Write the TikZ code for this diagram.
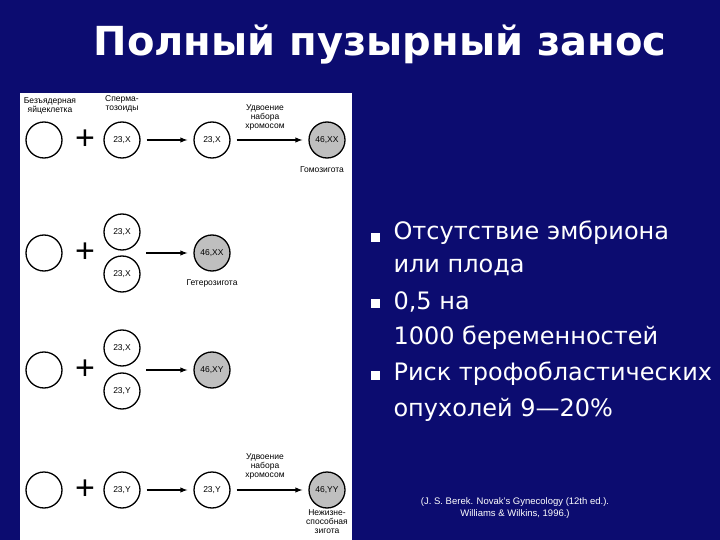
\documentclass[tikz,border=0pt]{standalone}
\usepackage{fontspec}
\setmainfont{Liberation Sans}
\newfontfamily\dvs{DejaVu Sans}
\begin{document}
\begin{tikzpicture}[x=1pt,y=-1pt,
 cell/.style={circle,draw,line width=1.3pt,minimum size=36pt,inner sep=0pt,font=\fontsize{8.5}{9}\selectfont,fill=white},
 zyg/.style={cell,fill=gray!50},
 lbl/.style={font=\fontsize{8.5}{9}\selectfont,align=center,text=black},
 plus/.style={font=\fontsize{34}{34}\selectfont,text=black},
 arr/.style={-latex,line width=1.4pt,shorten <=6pt,shorten >=6pt},
 bul/.style={fill=white,minimum size=9pt,inner sep=0pt},
 btxt/.style={anchor=west,text=white,font=\dvs\fontsize{24}{24}\selectfont}]
\fill[fill={rgb,255:red,12;green,12;blue,112}] (0,0) rectangle (720,540);
\useasboundingbox (0,0) rectangle (720,540);
\fill[white] (20,93) rectangle (352,540);
\node[text=white,font=\dvs\bfseries\fontsize{40}{40}\selectfont] (t) at (380,45) {Полный пузырный занос};
% row 1
\node[cell] (a1) at (44,140) {};
\node[plus] (p1) at (85,140) {+};
\node[cell] (b1) at (122,140) {23,X};
\node[cell] (c1) at (212,140) {23,X};
\node[zyg] (d1) at (327,140) {46,XX};
\draw[arr] (b1) -- (c1);
\draw[arr] (c1) -- (d1);
\node[lbl] (h1) at (50,106) {Безъядерная\\яйцеклетка};
\node[lbl] (h2) at (122,104) {Сперма-\\тозоиды};
\node[lbl] (h3) at (265,117) {Удвоение\\набора\\хромосом};
\node[lbl] (h4) at (322,170) {Гомозигота};
% row 2
\node[cell] (a2) at (44,253) {};
\node[plus] (p2) at (85,253) {+};
\node[cell] (b2) at (122,232) {23,X};
\node[cell] (b2b) at (122,274) {23,X};
\node[zyg] (d2) at (212,253) {46,XX};
\draw[arr] (140,253) coordinate (s2) -- (d2);
\node[lbl] (g2) at (212,283) {Гетерозигота};
% row 3
\node[cell] (a3) at (44,370) {};
\node[plus] (p3) at (85,370) {+};
\node[cell] (b3) at (122,348) {23,X};
\node[cell] (b3b) at (122,391) {23,Y};
\node[zyg] (d3) at (212,370) {46,XY};
\draw[arr] (140,370) coordinate (s3) -- (d3);
% row 4
\node[cell] (a4) at (44,490) {};
\node[plus] (p4) at (85,490) {+};
\node[cell] (b4) at (122,490) {23,Y};
\node[cell] (c4) at (212,490) {23,Y};
\node[zyg] (d4) at (327,490) {46,YY};
\draw[arr] (b4) -- (c4);
\draw[arr] (c4) -- (d4);
\node[lbl] (h5) at (265,466) {Удвоение\\набора\\хромосом};
\node[lbl] (h6) at (327,522) {Нежизне-\\способная\\зигота};
% bullets
\node[bul] (q1) at (375,237) {};
\node[bul] (q2) at (375,303) {};
\node[bul] (q3) at (375,375) {};
\node[btxt] (l1) at (390,233) {Отсутствие эмбриона};
\node[btxt] (l2) at (390,267) {или плода};
\node[btxt] (l3) at (390,302) {0,5 на};
\node[btxt] (l4) at (390,338) {1000 беременностей};
\node[btxt] (l5) at (390,374) {Риск трофобластических};
\node[btxt] (l6) at (390,410) {опухолей 9—20\%};
\node[text=white,font=\fontsize{9.5}{12}\selectfont,align=center] (cit) at (515,508) {(J. S. Berek. Novak's Gynecology (12th ed.).\\Williams \& Wilkins, 1996.)};
\end{tikzpicture}
\end{document}
